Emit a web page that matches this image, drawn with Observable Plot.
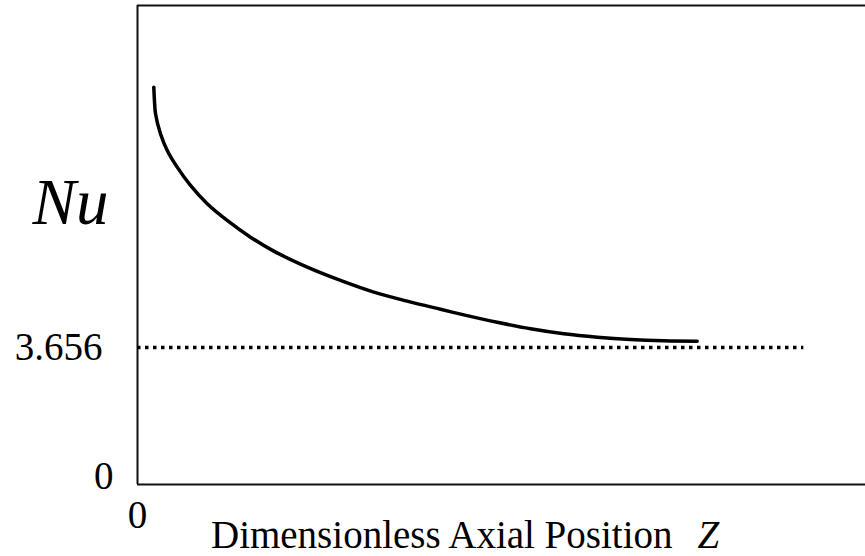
<!DOCTYPE html>
<html>
<head>
<meta charset="utf-8">
<script src="https://cdn.jsdelivr.net/npm/d3@7"></script>
<script src="https://cdn.jsdelivr.net/npm/@observablehq/plot@0.6"></script>
<style>
  html, body { margin: 0; padding: 0; background: #fff; }
</style>
</head>
<body>
<div id="chart"></div>
<script>
// Nusselt number vs dimensionless axial position
const zValues = [0.0227, 0.0236, 0.0251, 0.0320, 0.0414, 0.0553, 0.0738, 0.0971, 0.1249, 0.1574, 0.1898, 0.2364, 0.2827, 0.3291, 0.3756, 0.4220, 0.4545, 0.5010, 0.5474, 0.5937, 0.6403, 0.6866, 0.7330, 0.7795];
const nuValues = [10.602, 10.25, 9.893, 9.359, 8.913, 8.467, 7.979, 7.491, 7.045, 6.599, 6.226, 5.799, 5.444, 5.132, 4.892, 4.675, 4.526, 4.328, 4.155, 4.022, 3.931, 3.869, 3.835, 3.824];
const asymptote = 3.656;
const asymptoteEnd = 0.928;
const yTickLabels = ["0", "3.656"];
const xTickLabels = ["0"];
const xTitle = "Dimensionless Axial Position";
const xTitleVar = "Z";
const yTitle = "Nu";
const yMax = 12.78;
const xMax = 1.0139;

const curve = zValues.map((z, i) => ({z, nu: nuValues[i]}));
const font = "'Liberation Serif', 'Times New Roman', Times, serif";

const chart = Plot.plot({
  width: 865,
  height: 556,
  marginLeft: 137,
  marginRight: 0,
  marginTop: 5,
  marginBottom: 72,
  style: {fontFamily: font, background: "#fff", overflow: "visible"},
  x: {domain: [0, xMax], axis: null},
  y: {domain: [0, yMax], axis: null},
  marks: [
    // frame (left, top, bottom)
    Plot.ruleX([0], {y1: 0, y2: yMax, stroke: "#111", strokeWidth: 2}),
    Plot.ruleY([0, yMax], {x1: 0, x2: xMax, stroke: "#111", strokeWidth: 2}),
    // asymptote
    Plot.ruleY([asymptote], {x1: 0, x2: asymptoteEnd, stroke: "#000", strokeWidth: 3.5, strokeDasharray: "3.5,4.5"}),
    // curve
    Plot.line(curve, {x: "z", y: "nu", curve: "catmull-rom", stroke: "#000", strokeWidth: 3.5}),
    // y tick labels
    Plot.text([yTickLabels[1]], {x: 0, y: [asymptote], text: d => d, textAnchor: "end", lineAnchor: "middle", dx: -35, fontSize: 39, fontFamily: font, fill: "#000"}),
    Plot.text([yTickLabels[0]], {x: 0, y: [0], text: d => d, textAnchor: "end", lineAnchor: "middle", dx: -24, dy: -8, fontSize: 39, fontFamily: font, fill: "#000"}),
    // x tick label
    Plot.text(xTickLabels, {x: [0], y: 0, text: d => d, textAnchor: "middle", lineAnchor: "top", dy: 16, fontSize: 39, fontFamily: font, fill: "#000"}),
    // axis titles
    Plot.text([xTitle], {frameAnchor: "bottom-left", text: d => d, textAnchor: "end", lineAnchor: "bottom", dx: 535, dy: 63, fontSize: 39, fontFamily: font, fill: "#000"}),
    Plot.text([xTitleVar], {frameAnchor: "bottom-left", text: d => d, textAnchor: "start", lineAnchor: "bottom", dx: 560, dy: 63, fontSize: 39, fontFamily: font, fontStyle: "italic", fill: "#000"}),
    Plot.text([yTitle], {frameAnchor: "left", text: d => d, textAnchor: "middle", lineAnchor: "bottom", dx: -67, dy: -21.5, fontSize: 65, fontFamily: font, fontStyle: "italic", fill: "#000"})
  ]
});
document.getElementById("chart").appendChild(chart);
</script>
</body>
</html>
